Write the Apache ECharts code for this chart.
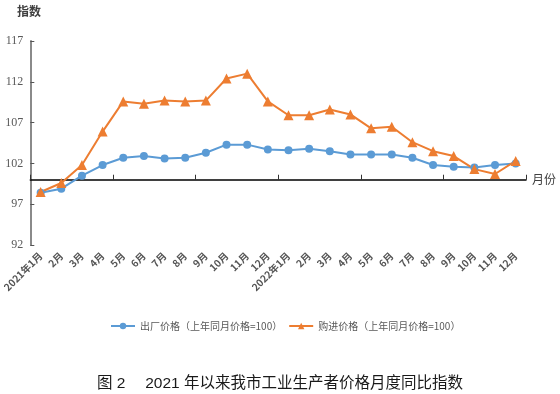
<!DOCTYPE html>
<html>
<head>
<meta charset="utf-8">
<script src="https://cdn.jsdelivr.net/npm/echarts@6/dist/echarts.min.js"></script>
<style>
html,body{margin:0;padding:0;background:#fff;}
#c{width:560px;height:394px;}
</style>
</head>
<body>
<div id="c"></div>
<script>
var categories = ['2021年1月','2月','3月','4月','5月','6月','7月','8月','9月','10月','11月','12月',
                  '2022年1月','2月','3月','4月','5月','6月','7月','8月','9月','10月','11月','12月'];
var factoryPrice = [98.4, 98.9, 100.5, 101.8, 102.7, 102.9, 102.6, 102.7, 103.3, 104.3, 104.3, 103.7,
                    103.6, 103.8, 103.5, 103.1, 103.1, 103.1, 102.7, 101.8, 101.6, 101.5, 101.8, 102.0];
var purchasePrice = [98.5, 99.6, 101.8, 105.9, 109.6, 109.3, 109.7, 109.6, 109.7, 112.4, 113.0, 109.6,
                     107.9, 107.9, 108.6, 108.0, 106.3, 106.5, 104.6, 103.5, 102.9, 101.3, 100.7, 102.3];
var seriesNames = ['出厂价格（上年同月价格=100）', '购进价格（上年同月价格=100）'];
var yMin = 92, yMax = 117, yStep = 5, crossAt = 100;
var chartTitle = '图 2　 2021 年以来我市工业生产者价格月度同比指数';

var gridTop = 41, gridHeight = 204;
var crossOffset = -gridHeight * (crossAt - yMin) / (yMax - yMin);

var chart = echarts.init(document.getElementById('c'), null, {renderer: 'canvas'});
chart.setOption({
  animation: false,
  backgroundColor: '#fff',
  title: {
    text: chartTitle,
    left: 'center',
    top: 371,
    textStyle: {fontSize: 15.5, fontWeight: 'normal', color: '#1a1a1a', fontFamily: 'Liberation Sans, Noto Sans CJK SC'}
  },
  graphic: [{
    type: 'text', left: 17, top: 5,
    style: {text: '指数', fontSize: 12, fontWeight: 'bold', fill: '#404040', fontFamily: 'Noto Sans CJK SC'}
  }],
  legend: {
    left: 105, top: 316,
    itemWidth: 24, itemHeight: 8, itemGap: 6,
    textStyle: {fontSize: 10, color: '#595959', fontFamily: 'Noto Sans CJK SC'},
    data: seriesNames
  },
  grid: {left: 30, top: gridTop, width: 496, height: gridHeight, containLabel: false},
  xAxis: [{
    type: 'category', data: categories, position: 'bottom', offset: crossOffset,
    boundaryGap: true,
    axisLine: {show: true, onZero: false, lineStyle: {color: '#000', width: 1.5}},
    axisTick: {show: true, inside: true, length: 5, lineStyle: {color: '#333'}},
    axisLabel: {show: false},
    name: '月份', nameLocation: 'end', nameGap: 6,
    nameTextStyle: {fontSize: 12, color: '#404040', fontFamily: 'Noto Sans CJK SC', verticalAlign: 'middle'},
    splitLine: {show: false}
  }, {
    type: 'category', data: categories, position: 'bottom', offset: 0,
    boundaryGap: true,
    axisLine: {show: false, onZero: false},
    axisTick: {show: false},
    axisLabel: {show: true, interval: 0, rotate: 45, margin: 9, fontSize: 10, fontWeight: 'bold', color: '#555', fontFamily: 'Noto Sans CJK SC'},
    splitLine: {show: false}
  }],
  yAxis: {
    type: 'value', min: yMin, max: yMax, interval: yStep,
    axisLine: {show: true, onZero: false, lineStyle: {color: '#8a8a8a', width: 2}},
    axisTick: {show: true, inside: true, length: 4, lineStyle: {color: '#555'}},
    axisLabel: {fontSize: 12, color: '#595959', margin: 7, fontFamily: 'Liberation Serif'},
    splitLine: {show: false}
  },
  series: [{
    name: seriesNames[0], type: 'line', data: factoryPrice, xAxisIndex: 0,
    symbol: 'circle', symbolSize: 8,
    itemStyle: {color: '#5B9BD5'},
    lineStyle: {color: '#5B9BD5', width: 2}
  }, {
    name: seriesNames[1], type: 'line', data: purchasePrice, xAxisIndex: 0,
    symbol: 'triangle', symbolSize: 10,
    itemStyle: {color: '#ED7D31'},
    lineStyle: {color: '#ED7D31', width: 2}
  }]
});
</script>
</body>
</html>
